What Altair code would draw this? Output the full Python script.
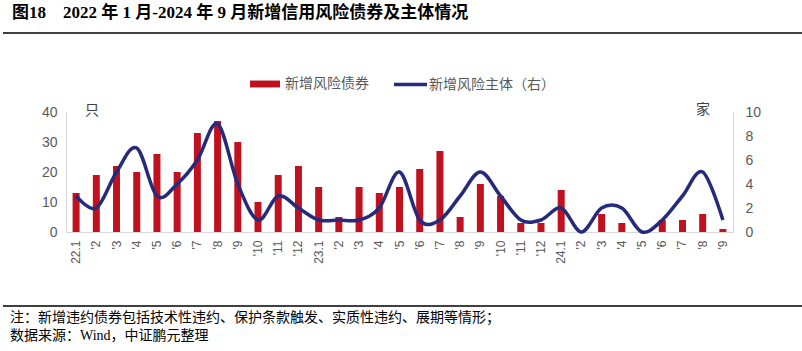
import altair as alt
import pandas as pd

months = ["22.1","22.2","22.3","22.4","22.5","22.6","22.7","22.8","22.9","22.10","22.11","22.12",
          "23.1","23.2","23.3","23.4","23.5","23.6","23.7","23.8","23.9","23.10","23.11","23.12",
          "24.1","24.2","24.3","24.4","24.5","24.6","24.7","24.8","24.9"]
bonds = [13,19,22,20,26,20,33,37,30,10,19,22,
         15,5,15,13,15,21,27,5,16,12,3,3,
         14,0,6,3,0,4,4,6,1]
issuers = [3,2,5,7,3,4,6,9,4,1,3,2,
           1,1,1,2,5,1,1,3,5,3,1,1,
           2,0,2,2,0,1,3,5,1]

bar_name = "新增风险债券"
line_name = "新增风险主体（右）"
title_text = "图18　2022 年 1 月-2024 年 9 月新增信用风险债券及主体情况"
note1 = "注：新增违约债券包括技术性违约、保护条款触发、实质性违约、展期等情形；"
note2 = "数据来源：Wind，中证鹏元整理"
unit_left = "只"
unit_right = "家"

df = pd.DataFrame({"m": months, "bonds": bonds, "issuers": issuers,
                   "s1": bar_name, "s2": line_name})

RED = "#C0111F"
NAVY = "#262A7B"
GRAY = "#595959"
AX = "#d9d9d9"
CJK = "Noto Sans CJK SC"
MIX = "Liberation Serif, Noto Sans CJK SC"

xenc = alt.X("m:N", sort=months, title=None,
             scale=alt.Scale(paddingInner=0, paddingOuter=0),
             axis=alt.Axis(labelAngle=270, labelFontSize=12, labelFont="Liberation Sans",
                           labelColor=GRAY, ticks=False, domainColor=AX, labelPadding=8,
                           labelExpr="split(datum.value,'.')[1]=='1' ? datum.value : \"'\" + split(datum.value,'.')[1]"))

bars = alt.Chart(df).mark_bar(size=7).encode(
    x=xenc,
    y=alt.Y("bonds:Q", title=None, scale=alt.Scale(domain=[0, 40]),
            axis=alt.Axis(values=[0,10,20,30,40], grid=False, ticks=False, domainColor=AX,
                          labelColor=GRAY, labelFontSize=14, labelFont="Liberation Sans",
                          labelPadding=9)),
    fill=alt.Fill("s1:N", scale=alt.Scale(domain=[bar_name], range=[RED]),
                  legend=alt.Legend(orient="none", legendX=183, legendY=-44, title=None,
                                    symbolType="M-1,-0.23H1V0.23H-1Z", symbolSize=900,
                                    labelFontSize=14, labelFont=CJK, labelColor=GRAY,
                                    labelOffset=4, padding=0)),
)

line = alt.Chart(df).mark_line(interpolate="cardinal", strokeWidth=3.5).encode(
    x=xenc,
    y=alt.Y("issuers:Q", title=None, scale=alt.Scale(domain=[0, 10]),
            axis=alt.Axis(orient="right", values=[0,2,4,6,8,10], grid=False, ticks=False,
                          domainColor=AX, labelColor=GRAY, labelFontSize=14,
                          labelFont="Liberation Sans", labelPadding=12)),
    stroke=alt.Stroke("s2:N", scale=alt.Scale(domain=[line_name], range=[NAVY]),
                      legend=alt.Legend(orient="none", legendX=326, legendY=-46, title=None,
                                        symbolType="stroke", symbolSize=1089,
                                        symbolStrokeWidth=3.5, labelFontSize=14,
                                        labelFont=CJK, labelColor=GRAY, labelOffset=0,
                                        padding=0)),
)

def text_layer(t, x, y, size, color, font, weight="normal", align="left"):
    return alt.Chart(pd.DataFrame({"t": [t]})).mark_text(
        align=align, baseline="middle", fontSize=size, font=font, fontWeight=weight,
        color=color).encode(text="t:N", x=alt.value(x), y=alt.value(y))

title = text_layer(title_text, -54, -99, 17, "black", MIX, "bold")
n1 = text_layer(note1, -56, 206, 14, "black", MIX)
n2 = text_layer(note2, -56, 224, 14, "black", MIX)
u1 = text_layer(unit_left, 26, -1, 14, "#404040", CJK, align="center")
u2 = text_layer(unit_right, 637, -2, 14, "#404040", CJK, align="center")

rule_df = pd.DataFrame({"k": [0]})
rule_top = alt.Chart(rule_df).mark_rule(color="black", strokeWidth=1.3).encode(
    x=alt.value(-63), x2=alt.value(736), y=alt.value(-79))
rule_bot = alt.Chart(rule_df).mark_rule(color="black", strokeWidth=1.3).encode(
    x=alt.value(-63), x2=alt.value(736), y=alt.value(194))

chart = alt.layer(bars, line, title, n1, n2, u1, u2, rule_top, rule_bot).resolve_scale(
    y="independent", fill="independent", stroke="independent"
).properties(
    width=667, height=120,
    autosize=alt.AutoSizeParams(type="none"),
    padding={"left": 66, "top": 112, "right": 69, "bottom": 119},
    background="white",
).configure_view(stroke=None)

chart.save("out.html", embed_options={"renderer": "svg", "actions": False})
